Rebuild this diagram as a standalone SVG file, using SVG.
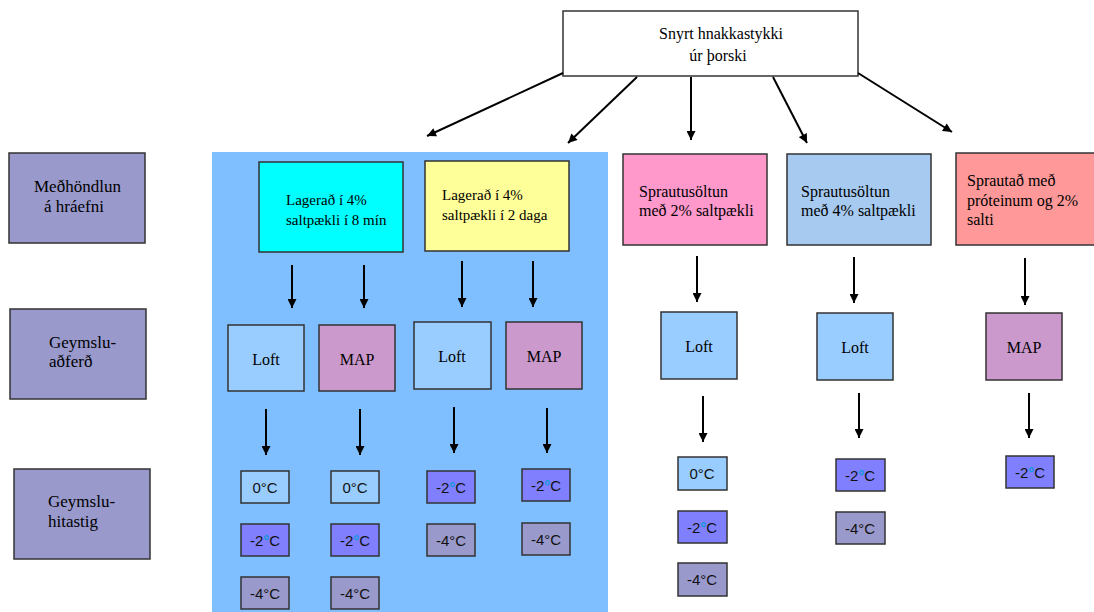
<svg xmlns="http://www.w3.org/2000/svg" width="1094" height="612" viewBox="0 0 1094 612">
<defs>
<marker id="ah" viewBox="0 0 10 10" refX="10" refY="5" markerWidth="11" markerHeight="9" markerUnits="userSpaceOnUse" orient="auto">
<path d="M0,0 L10,5 L0,10 z" fill="#000"/>
</marker>
<style>
.b{stroke:#333;stroke-width:1.5}
.lab{fill:#9999CC}
.c0{fill:#99CCFF}
.c2{fill:#8080FF}
.c4{fill:#9999CC}
.loft{fill:#99CCFF}
.map{fill:#CC99CC}
.ar{stroke:#000;stroke-width:2;fill:none}
</style>
</defs>
<rect width="1094" height="612" fill="#fff"/>
<rect id="panel" x="212" y="152" width="396" height="460" fill="#80BFFF"/>

<g font-family="Liberation Serif, Times New Roman, serif" font-size="16" fill="#000">
<g id="root">
<rect class="b" x="563" y="11" width="295" height="65" fill="#fff"/>
<text x="721" y="39" text-anchor="middle">Snyrt hnakkastykki</text>
<text x="718" y="61" text-anchor="middle">úr þorski</text>
</g>

<g id="label1" font-size="17"><rect class="b lab" x="9" y="153" width="136" height="90"/>
<text x="34" y="192">Meðhöndlun</text><text x="44" y="212">á hráefni</text></g>
<g id="label2" font-size="17"><rect class="b lab" x="10" y="309" width="136" height="90"/>
<text x="49" y="348">Geymslu-</text><text x="49" y="367">aðferð</text></g>
<g id="label3" font-size="17"><rect class="b lab" x="14" y="469" width="136" height="90"/>
<text x="48" y="507">Geymslu-</text><text x="48" y="527">hitastig</text></g>

<g id="treat1" font-size="15"><rect class="b" x="259" y="162" width="144" height="90" fill="#00FFFF"/>
<text x="286" y="205">Lagerað í 4%</text><text x="286" y="225">saltpækli í 8 mín</text></g>
<g id="treat2" font-size="15"><rect class="b" x="425" y="161" width="144" height="90" fill="#FFFF99"/>
<text x="442" y="200">Lagerað í 4%</text><text x="442" y="220">saltpækli í 2 daga</text></g>
<g id="treat3"><rect class="b" x="623" y="154" width="144" height="91" fill="#FF99CC"/>
<text x="639" y="197">Sprautusöltun</text><text x="639" y="216">með 2% saltpækli</text></g>
<g id="treat4"><rect class="b" x="787" y="154" width="144" height="91" fill="#A6CAF0"/>
<text x="801" y="197">Sprautusöltun</text><text x="801" y="216">með 4% saltpækli</text></g>
<g id="treat5"><rect class="b" x="956" y="153" width="145" height="92" fill="#FF9999"/>
<text x="967" y="186">Sprautað með</text><text x="967" y="206">próteinum og 2%</text><text x="967" y="225">salti</text></g>

<g id="loft1"><rect class="b loft" x="228" y="325" width="76" height="66"/><text x="266" y="365" text-anchor="middle">Loft</text></g>
<g id="map1"><rect class="b map" x="319" y="325" width="76" height="66"/><text x="357" y="365" text-anchor="middle">MAP</text></g>
<g id="loft2"><rect class="b loft" x="414" y="322" width="77" height="67"/><text x="452" y="362" text-anchor="middle">Loft</text></g>
<g id="map2"><rect class="b map" x="506" y="322" width="76" height="67"/><text x="544" y="362" text-anchor="middle">MAP</text></g>
<g id="loft3"><rect class="b loft" x="661" y="312" width="76" height="67"/><text x="699" y="352" text-anchor="middle">Loft</text></g>
<g id="loft4"><rect class="b loft" x="817" y="313" width="76" height="67"/><text x="855" y="353" text-anchor="middle">Loft</text></g>
<g id="map3"><rect class="b map" x="986" y="313" width="76" height="67"/><text x="1024" y="353" text-anchor="middle">MAP</text></g>
</g>

<g font-family="Liberation Sans, Arial, sans-serif" font-size="15" fill="#111" text-anchor="middle">
<g id="temps1">
<rect class="b c0" x="241" y="471" width="48" height="32"/><text x="265" y="493">0°C</text>
<rect class="b c2" x="241" y="524" width="48" height="32"/><text x="265" y="546">-2<tspan fill="#0A9AD8" font-weight="bold">°</tspan>C</text>
<rect class="b c4" x="241" y="577" width="48" height="32"/><text x="265" y="599">-4°C</text>
</g>
<g id="temps2">
<rect class="b c0" x="331" y="471" width="48" height="32"/><text x="355" y="493">0°C</text>
<rect class="b c2" x="331" y="524" width="48" height="32"/><text x="355" y="546">-2<tspan fill="#0A9AD8" font-weight="bold">°</tspan>C</text>
<rect class="b c4" x="331" y="577" width="48" height="32"/><text x="355" y="599">-4°C</text>
</g>
<g id="temps3">
<rect class="b c2" x="427" y="471" width="48" height="32"/><text x="451" y="493">-2<tspan fill="#0A9AD8" font-weight="bold">°</tspan>C</text>
<rect class="b c4" x="427" y="524" width="48" height="32"/><text x="451" y="546">-4°C</text>
</g>
<g id="temps4">
<rect class="b c2" x="522" y="469" width="48" height="32"/><text x="546" y="491">-2<tspan fill="#0A9AD8" font-weight="bold">°</tspan>C</text>
<rect class="b c4" x="522" y="523" width="48" height="32"/><text x="546" y="545">-4°C</text>
</g>
<g id="temps5">
<rect class="b c0" x="678" y="457" width="49" height="33"/><text x="702" y="479">0°C</text>
<rect class="b c2" x="678" y="511" width="49" height="32"/><text x="702" y="533">-2<tspan fill="#0A9AD8" font-weight="bold">°</tspan>C</text>
<rect class="b c4" x="678" y="563" width="49" height="33"/><text x="702" y="585">-4°C</text>
</g>
<g id="temps6">
<rect class="b c2" x="836" y="459" width="49" height="32"/><text x="860" y="481">-2<tspan fill="#0A9AD8" font-weight="bold">°</tspan>C</text>
<rect class="b c4" x="836" y="512" width="49" height="32"/><text x="860" y="534">-4°C</text>
</g>
<g id="temps7">
<rect class="b c2" x="1006" y="456" width="48" height="32"/><text x="1030" y="478">-2<tspan fill="#0A9AD8" font-weight="bold">°</tspan>C</text>
</g>
</g>

<g id="connectors" class="ar" marker-end="url(#ah)">
<line x1="563" y1="73" x2="427" y2="136"/>
<line x1="637" y1="77" x2="568" y2="143"/>
<line x1="691" y1="77" x2="691" y2="140"/>
<line x1="773" y1="77" x2="807" y2="143"/>
<line x1="858" y1="73" x2="952" y2="132"/>
<line x1="292" y1="265" x2="292" y2="308"/>
<line x1="364" y1="265" x2="364" y2="308"/>
<line x1="462" y1="261" x2="462" y2="307"/>
<line x1="533" y1="261" x2="533" y2="307"/>
<line x1="697" y1="256" x2="697" y2="302"/>
<line x1="854" y1="257" x2="854" y2="303"/>
<line x1="1025" y1="258" x2="1025" y2="305"/>
<line x1="266" y1="409" x2="266" y2="455"/>
<line x1="360" y1="409" x2="360" y2="455"/>
<line x1="454" y1="407" x2="454" y2="453"/>
<line x1="547" y1="408" x2="547" y2="453"/>
<line x1="703" y1="396" x2="703" y2="442"/>
<line x1="859" y1="393" x2="859" y2="438"/>
<line x1="1029" y1="393" x2="1029" y2="438"/>
</g>
</svg>
